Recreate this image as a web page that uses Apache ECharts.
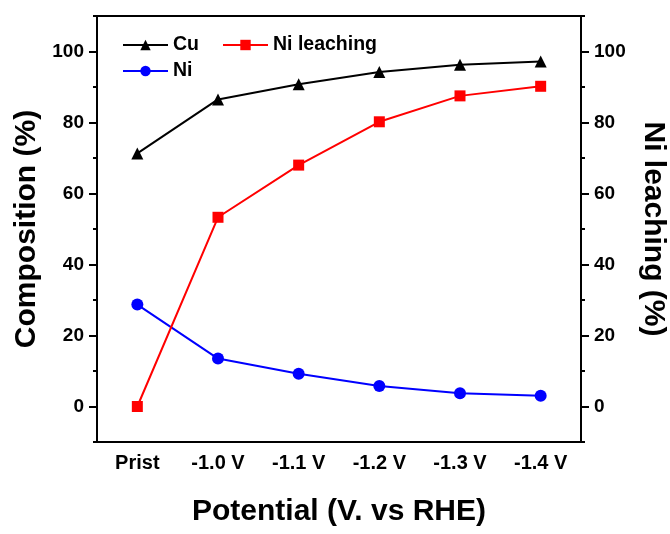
<!DOCTYPE html>
<html>
<head>
<meta charset="utf-8">
<script src="https://cdn.jsdelivr.net/npm/echarts@6/dist/echarts.min.js"></script>
<style>html,body{margin:0;padding:0;background:#fff}#c{width:670px;height:534px}</style>
</head>
<body>
<div id="c"></div>
<script>
// Electrode potentials applied to the sample
const categories = ['Prist', '-1.0 V', '-1.1 V', '-1.2 V', '-1.3 V', '-1.4 V'];
// Atomic composition (%)
const cuValues = [71.3, 86.5, 90.8, 94.2, 96.3, 97.2];
const niValues = [28.7, 13.5, 9.2, 5.8, 3.7, 3.0];
// Fraction of Ni removed (%)
const leachValues = [0, 53.3, 68.0, 80.2, 87.5, 90.2];
// Labelled (major) and unlabelled (minor) ticks on both value axes
const majorTicks = [0, 20, 40, 60, 80, 100];
const minorTicks = [-10, 10, 30, 50, 70, 90, 110];

const FONT = 'Liberation Sans, Arial, sans-serif';
const chart = echarts.init(document.getElementById('c'));

function valueAxis(pos, name, gap) {
  return {
    type: 'value', position: pos, min: -10, max: 110, interval: 10,
    name: name, nameLocation: 'middle', nameGap: gap,
    nameRotate: pos === 'left' ? 90 : -90,
    nameTextStyle: { fontFamily: FONT, fontWeight: 'bold', fontSize: 30, color: '#000' },
    axisLine: { show: true, lineStyle: { color: '#000', width: 2 } },
    axisTick: { show: true, inside: false, length: 8, customValues: majorTicks,
      lineStyle: { color: '#000', width: 2 } },
    splitLine: { show: false },
    axisLabel: {
      customValues: majorTicks,
      fontFamily: FONT, fontWeight: 'bold', fontSize: 19, color: '#000', margin: 13
    }
  };
}

// Overlay axis that only carries the short minor ticks
function minorAxis(pos) {
  return {
    type: 'value', position: pos, min: -10, max: 110, interval: 10,
    axisLine: { show: false },
    axisTick: { show: true, inside: false, length: 4, customValues: minorTicks,
      lineStyle: { color: '#000', width: 2 } },
    axisLabel: { show: false },
    splitLine: { show: false }
  };
}

chart.setOption({
  animation: false,
  backgroundColor: '#fff',
  grid: {
    left: 97, right: 89, top: 16, bottom: 92,
    outerBoundsMode: 'none', containLabel: false,
    show: true, borderColor: '#000', borderWidth: 2
  },
  legend: [
    {
      left: 117, top: 30, orient: 'vertical', itemGap: 6, itemWidth: 45, itemHeight: 13,
      data: ['Cu', 'Ni'],
      textStyle: { fontFamily: FONT, fontWeight: 'bold', fontSize: 19.5, color: '#000' }
    },
    {
      left: 217, top: 30, orient: 'vertical', itemWidth: 45, itemHeight: 13,
      data: ['Ni leaching'],
      textStyle: { fontFamily: FONT, fontWeight: 'bold', fontSize: 19.5, color: '#000' }
    }
  ],
  xAxis: {
    type: 'category', data: categories, boundaryGap: true,
    name: 'Potential (V. vs RHE)', nameLocation: 'middle', nameGap: 55,
    nameTextStyle: { fontFamily: FONT, fontWeight: 'bold', fontSize: 30, color: '#000' },
    axisLine: { onZero: false, lineStyle: { color: '#000', width: 2 } },
    axisTick: { alignWithLabel: true, length: 6, lineStyle: { color: '#000', width: 2 } },
    axisLabel: { fontFamily: FONT, fontWeight: 'bold', fontSize: 20, color: '#000', margin: 11 }
  },
  yAxis: [
    valueAxis('left', 'Composition (%)', 51),
    valueAxis('right', 'Ni leaching (%)', 57),
    minorAxis('left'),
    minorAxis('right')
  ],
  series: [
    {
      name: 'Cu', type: 'line', yAxisIndex: 0, data: cuValues,
      symbol: 'triangle', symbolSize: 12, color: '#000',
      lineStyle: { width: 2, color: '#000' }
    },
    {
      name: 'Ni', type: 'line', yAxisIndex: 0, data: niValues,
      symbol: 'circle', symbolSize: 12, color: '#0000ff',
      lineStyle: { width: 2, color: '#0000ff' }
    },
    {
      name: 'Ni leaching', type: 'line', yAxisIndex: 1, data: leachValues,
      symbol: 'rect', symbolSize: 11, color: '#ff0000',
      lineStyle: { width: 2, color: '#ff0000' }
    }
  ]
});
</script>
</body>
</html>
